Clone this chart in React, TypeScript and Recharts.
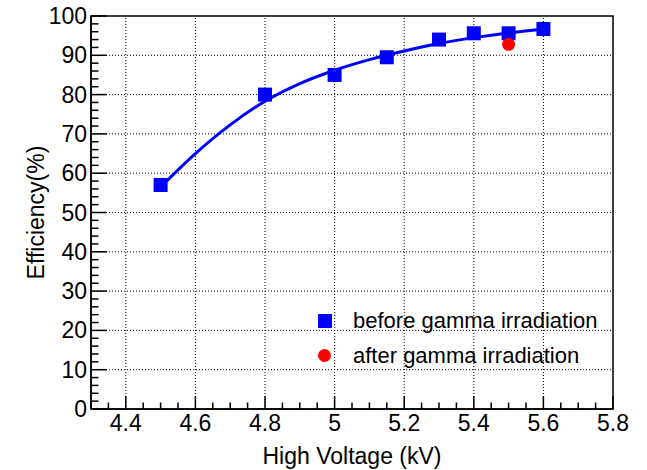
import React from 'react';
import {
  ComposedChart,
  Line,
  Scatter,
  XAxis,
  YAxis,
  ReferenceLine,
  ReferenceArea,
  Legend,
  Label,
} from 'recharts';

// Efficiency vs high voltage, before / after gamma irradiation (ROOT-style plot)

const voltageBefore = [4.5, 4.8, 5.0, 5.15, 5.3, 5.4, 5.5, 5.6];
const effBefore = [57, 80, 85, 89.5, 94, 95.6, 95.6, 96.7];

const voltageAfter = [5.5];
const effAfter = [92.8];

// fitted curve
const fitVoltage = [4.5, 4.6, 4.7, 4.8, 4.9, 5.0, 5.1, 5.2, 5.3, 5.4, 5.5, 5.6];
const fitEff = [56.5, 65, 72.3, 78.3, 82.8, 86.2, 88.9, 91.1, 93, 94.5, 95.7, 96.7];

const xMajorTicks = [4.4, 4.6, 4.8, 5.0, 5.2, 5.4, 5.6, 5.8];
const yMajorTicks = [0, 10, 20, 30, 40, 50, 60, 70, 80, 90, 100];

const X_MIN = 4.3;
const X_MAX = 5.8;
const FONT = '"Liberation Sans", Arial, sans-serif';
const BLUE = '#0000ff';
const RED = '#ff0000';

if (typeof document !== 'undefined') document.body.style.margin = '0';

// minor ticks (axis decoration only)
const xTicks: number[] = [];
for (let i = 0; i <= 30; i++) xTicks.push(Math.round((X_MIN + i * 0.05) * 100) / 100);
const yTicks: number[] = [];
for (let i = 0; i <= 50; i++) yTicks.push(i * 2);

const beforeData = voltageBefore.map((x, i) => ({ x, y: effBefore[i] }));
const afterData = voltageAfter.map((x, i) => ({ x, y: effAfter[i] }));
const fitData = fitVoltage.map((x, i) => ({ x, y: fitEff[i] }));

const isMajor = (list: number[], v: number) => list.some((m) => Math.abs(m - v) < 1e-6);

function XTick(props: any) {
  const { x, y, payload } = props;
  const v = payload.value;
  const major = isMajor(xMajorTicks, v);
  return (
    <g>
      <line x1={x} y1={y} x2={x} y2={y - (major ? 13 : 6.5)} stroke="#000" strokeWidth={1.5} />
      {major && (
        <text x={x} y={y + 22} textAnchor="middle" fontSize={23} fontFamily={FONT} fill="#000">
          {String(Math.round(v * 10) / 10)}
        </text>
      )}
    </g>
  );
}

function YTick(props: any) {
  const { x, y, payload } = props;
  const v = payload.value;
  const major = isMajor(yMajorTicks, v);
  return (
    <g>
      <line x1={x} y1={y} x2={x + (major ? 16 : 7.5)} y2={y} stroke="#000" strokeWidth={1.5} />
      {major && (
        <text x={x - 4} y={y + 8} textAnchor="end" fontSize={23} fontFamily={FONT} fill="#000">
          {v}
        </text>
      )}
    </g>
  );
}

const Square = (props: any) => {
  const { cx, cy } = props;
  return <rect x={cx - 7} y={cy - 7} width={14} height={14} fill={BLUE} />;
};

const Dot = (props: any) => {
  const { cx, cy } = props;
  return <circle cx={cx} cy={cy} r={6.5} fill={RED} />;
};

function LegendBox() {
  const row: React.CSSProperties = { display: 'flex', alignItems: 'center', height: 35 };
  const text: React.CSSProperties = { fontSize: 22, fontFamily: FONT, color: '#000', marginLeft: 14, lineHeight: '22px' };
  return (
    <div>
      <div style={row}>
        <div style={{ width: 29, display: 'flex', justifyContent: 'center' }}>
          <div style={{ width: 14, height: 14, background: BLUE }} />
        </div>
        <span style={text}>before gamma irradiation</span>
      </div>
      <div style={row}>
        <div style={{ width: 29, display: 'flex', justifyContent: 'center' }}>
          <div style={{ width: 13, height: 13, borderRadius: '50%', background: RED }} />
        </div>
        <span style={text}>after gamma irradiation</span>
      </div>
    </div>
  );
}

export default function App() {
  return (
    <div style={{ width: 647, height: 470, background: '#fff', fontFamily: FONT }}>
      <ComposedChart width={647} height={470} margin={{ top: 16, right: 34, left: 0, bottom: 0 }}>
        <XAxis
          dataKey="x"
          type="number"
          domain={[X_MIN, X_MAX]}
          ticks={xTicks}
          interval={0}
          tickSize={0}
          tickMargin={0}
          tick={<XTick />}
          tickLine={false}
          axisLine={{ stroke: '#000', strokeWidth: 1.5 }}
          height={61}
          allowDataOverflow
        >
          <Label
            content={({ viewBox }: any) => (
              <text
                x={viewBox.x + viewBox.width / 2}
                y={464}
                textAnchor="middle"
                fontSize={23}
                fontFamily={FONT}
                fill="#000"
              >
                High Voltage (kV)
              </text>
            )}
          />
        </XAxis>
        <YAxis
          dataKey="y"
          type="number"
          domain={[0, 100]}
          ticks={yTicks}
          interval={0}
          tickSize={0}
          tickMargin={0}
          tick={<YTick />}
          tickLine={false}
          axisLine={{ stroke: '#000', strokeWidth: 1.5 }}
          width={91}
          allowDataOverflow
        >
          <Label
            content={({ viewBox }: any) => {
              const cy = viewBox.y + viewBox.height / 2;
              return (
                <text
                  x={44}
                  y={cy}
                  transform={`rotate(-90, 44, ${cy})`}
                  textAnchor="middle"
                  fontSize={23}
                  fontFamily={FONT}
                  fill="#000"
                >
                  Efficiency(%)
                </text>
              );
            }}
          />
        </YAxis>

        {xMajorTicks.slice(0, -1).map((v) => (
          <ReferenceLine key={'gx' + v} x={v} stroke="#000" strokeWidth={1} strokeDasharray="1 2" />
        ))}
        {yMajorTicks.slice(1, -1).map((v) => (
          <ReferenceLine key={'gy' + v} y={v} stroke="#000" strokeWidth={1} strokeDasharray="1 2" />
        ))}
        <ReferenceArea x1={X_MIN} x2={X_MAX} y1={0} y2={100} fill="none" stroke="#000" strokeWidth={1.5} />

        <Line
          data={fitData}
          dataKey="y"
          type="monotone"
          stroke={BLUE}
          strokeWidth={3}
          dot={false}
          activeDot={false}
          isAnimationActive={false}
          legendType="none"
        />
        <Scatter data={beforeData} dataKey="y" shape={<Square />} isAnimationActive={false} />
        <Scatter data={afterData} dataKey="y" shape={<Dot />} isAnimationActive={false} />

        <Legend
          layout="vertical"
          align="center"
          verticalAlign="middle"
          content={() => <LegendBox />}
          wrapperStyle={{ position: 'absolute', left: 310, top: 303, width: 300, height: 70 }}
        />
      </ComposedChart>
    </div>
  );
}
